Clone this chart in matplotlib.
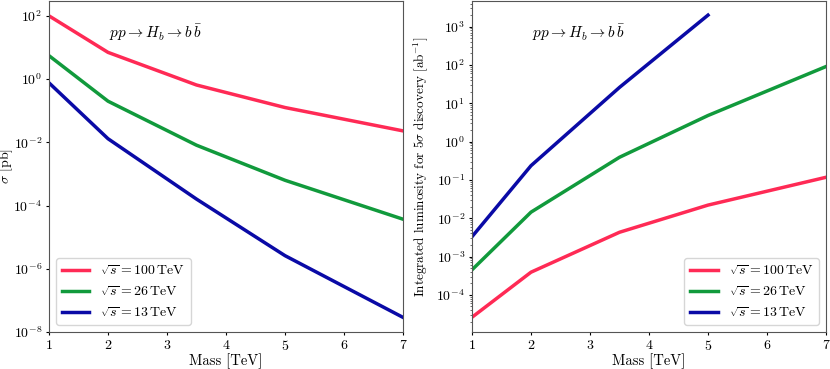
import numpy as np
import matplotlib
matplotlib.use('Agg')
import matplotlib.pyplot as plt

plt.rcParams['font.family'] = 'cmr10'
plt.rcParams['mathtext.fontset'] = 'cm'
plt.rcParams['axes.formatter.use_mathtext'] = True
plt.rcParams['axes.unicode_minus'] = True

#%% data
mass = [1, 2, 3.5, 5, 7]
mass_13_lumi = [1, 2, 3.5, 5]

xsec_100 = [100, 7.0, 0.65, 0.126, 0.023]
xsec_26 = [5.5, 0.2, 0.0081, 6.3e-4, 3.7e-5]
xsec_13 = [0.76, 0.013, 1.6e-4, 2.6e-6, 2.9e-8]

lumi_100 = [2.6e-5, 3.9e-4, 4.3e-3, 0.022, 0.117]
lumi_26 = [4.5e-4, 0.0144, 0.39, 4.8, 91]
lumi_13 = [3.3e-3, 0.235, 26, 2000]

labels = [r'$\sqrt{s}=100\,\mathrm{TeV}$', r'$\sqrt{s}=26\,\mathrm{TeV}$',
          r'$\sqrt{s}=13\,\mathrm{TeV}$']
colors = ['#ff2a55', '#119a3c', '#0a0aa6']
process = r'$pp\rightarrow H_b\rightarrow b\,\bar{b}$'

#%%
W, H = 830, 369
fig = plt.figure(figsize=(8.3, 3.69), dpi=100)
ax1 = fig.add_axes([49 / W, 1 - 332 / H, (403 - 49) / W, (332 - 1) / H])
ax2 = fig.add_axes([472 / W, 1 - 332 / H, (826 - 472) / W, (332 - 1) / H])

for y, c, l in zip([xsec_100, xsec_26, xsec_13], colors, labels):
    ax1.plot(mass, y, color=c, lw=2.5, label=l)
ax1.set_yscale('log')
ax1.set_xlim(1, 7)
ax1.set_ylim(1e-8, 10**2.47)
ax1.set_ylabel(r'$\sigma$ [pb]', fontsize=10)
ax1.yaxis.set_label_coords(-0.097, 0.5)
ax1.yaxis.set_minor_locator(matplotlib.ticker.NullLocator())
ax1.legend(loc='lower left', fontsize=10)
ax1.text(0.17, 0.905, process, transform=ax1.transAxes, fontsize=11,
         va='center')

lumi_x = [mass, mass, mass_13_lumi]
for x, y, c, l in zip(lumi_x, [lumi_100, lumi_26, lumi_13], colors, labels):
    ax2.plot(x, y, color=c, lw=2.5, label=l)
ax2.set_yscale('log')
ax2.set_xlim(1, 7)
ax2.set_ylim(10**-4.97, 10**3.67)
ax2.set_ylabel(r'Integrated luminosity for $5\sigma$ discovery [ab$^{-1}$]',
               fontsize=9.5)
ax2.yaxis.set_label_coords(-0.118, 0.5)
ax2.legend(loc='lower right', fontsize=10)
ax2.text(0.17, 0.905, process, transform=ax2.transAxes, fontsize=11,
         va='center')

for ax in (ax1, ax2):
    ax.set_xlabel('Mass [TeV]', fontsize=10.5)
    ax.xaxis.set_label_coords(0.5, -0.066)
    ax.tick_params(labelsize=10, length=2.5, pad=2.5)
    ax.tick_params(which='minor', length=1.5, color='#555555')
    for s in ax.spines.values():
        s.set_color('#555555')

fig.savefig('out.png', dpi=100)
